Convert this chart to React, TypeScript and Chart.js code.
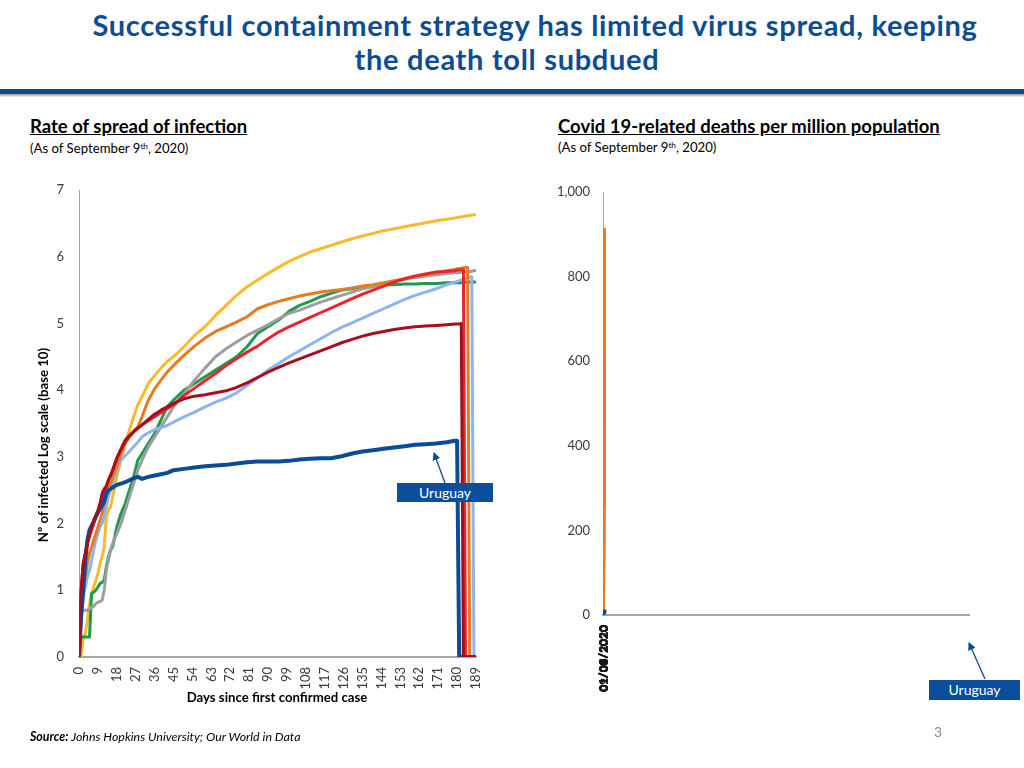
import React, { useEffect, useRef } from "react";
import { Chart, registerables } from "chart.js";

Chart.register(...registerables);

// ---------- Left chart: rate of spread (log10 of infected) ----------
const days = [
  0, 1, 2, 3, 4, 5, 6, 7, 8, 9, 10, 11, 12, 13, 14, 15, 16,
  18, 20, 22, 24, 26, 28, 30,
  33, 36, 39, 42, 45,
  50, 55, 60, 65, 70, 75, 80, 85, 90, 95, 100, 105, 110, 115, 120, 125, 130, 135, 140, 145, 150, 155, 160, 165, 170, 175,
  179, 180, 181, 182, 183, 184, 185, 186, 187, 188, 189,
];

const dayTickLabels = [0, 9, 18, 27, 36, 45, 54, 63, 72, 81, 90, 99, 108, 117, 126, 135, 144, 153, 162, 171, 180, 189];
const infectionTickValues = [0, 1, 2, 3, 4, 5, 6, 7];

const uruguayLog = [
  0, 0.6, 1.0, 1.45, 1.75, 1.9, 1.97, 2.03, 2.1, 2.17, 2.22, 2.27, 2.33, 2.45, 2.5, 2.52, 2.54,
  2.58, 2.6, 2.62, 2.65, 2.68, 2.7, 2.67,
  2.7, 2.72, 2.74, 2.76, 2.8,
  2.82, 2.84, 2.86, 2.87, 2.88, 2.9, 2.92, 2.93, 2.93, 2.93, 2.94, 2.96, 2.97, 2.98, 2.98, 3.01, 3.05, 3.08, 3.1, 3.12, 3.14, 3.16, 3.18, 3.19, 3.2, 3.22,
  3.24, 3.24, 0, 0, 0, 0, 0, 0, 0, 0, 0,
];
const darkRedLog = [
  0, 1.0, 1.4, 1.55, 1.7, 1.85, 1.95, 2.05, 2.12, 2.2, 2.3, 2.45, 2.52, 2.56, 2.65, 2.72, 2.8,
  2.98, 3.12, 3.25, 3.32, 3.38, 3.43, 3.48,
  3.56, 3.64, 3.7, 3.75, 3.8,
  3.87, 3.91, 3.93, 3.96, 3.99, 4.04, 4.11, 4.19, 4.27, 4.34, 4.41, 4.47, 4.53, 4.59, 4.65, 4.71, 4.76, 4.81, 4.85, 4.88, 4.91, 4.93, 4.95, 4.96, 4.97, 4.98,
  4.99, 4.99, 4.99, 5.0, 0, 0, 0, 0, 0, 0, 0,
];
const redLog = [
  0, 1.0, 1.4, 1.55, 1.7, 1.8, 1.9, 2.0, 2.1, 2.15, 2.25, 2.35, 2.45, 2.55, 2.65, 2.72, 2.8,
  2.98, 3.1, 3.22, 3.3, 3.37, 3.43, 3.48,
  3.54, 3.6, 3.66, 3.72, 3.78,
  3.92, 4.03, 4.14, 4.25, 4.37, 4.47, 4.57, 4.66, 4.77, 4.87, 4.95, 5.02, 5.09, 5.16, 5.23, 5.3, 5.37, 5.44, 5.5, 5.56, 5.62, 5.67, 5.71, 5.74, 5.77, 5.78,
  5.79, 5.8, 5.8, 5.8, 5.81, 0, 0, 0, 0, 0, 0,
];
const orangeLog = [
  0, 0.8, 1.0, 1.2, 1.4, 1.55, 1.65, 1.75, 1.85, 1.95, 2.05, 2.15, 2.3, 2.4, 2.5, 2.6, 2.7,
  2.85, 3.05, 3.2, 3.3, 3.38, 3.45, 3.6,
  3.85, 4.02, 4.15, 4.27, 4.37,
  4.52, 4.66, 4.78, 4.88, 4.95, 5.02, 5.1, 5.22, 5.28, 5.33, 5.37, 5.41, 5.44, 5.47, 5.49, 5.51, 5.53, 5.56, 5.58, 5.61, 5.64, 5.67, 5.7, 5.73, 5.76, 5.79,
  5.81, 5.82, 5.82, 5.83, 5.83, 5.84, 5.84, 0, 0, 0, 0,
];
const lightBlueLog = [
  0, 0.6, 0.9, 1.05, 1.2, 1.3, 1.45, 1.6, 1.75, 1.85, 1.95, 2.0, 2.1, 2.25, 2.4, 2.5, 2.6,
  2.8, 2.95, 3.02, 3.08, 3.15, 3.22, 3.3,
  3.36, 3.41, 3.44, 3.47, 3.52,
  3.6, 3.67, 3.75, 3.82, 3.88, 3.96, 4.07, 4.18, 4.3, 4.4, 4.5, 4.59, 4.68, 4.77, 4.86, 4.94, 5.01, 5.08, 5.15, 5.22, 5.29, 5.36, 5.42, 5.47, 5.52, 5.58,
  5.62, 5.63, 5.64, 5.65, 5.66, 5.67, 5.68, 5.69, 5.7, 0, 0,
];
const grayLog = [
  0, 0.7, 0.7, 0.7, 0.7, 0.72, 0.74, 0.76, 0.8, 0.82, 0.83, 0.85, 1.0, 1.3, 1.45, 1.6, 1.7,
  1.85, 2.0, 2.2, 2.4, 2.6, 2.8, 2.95,
  3.15, 3.3, 3.45, 3.6, 3.75,
  3.95, 4.15, 4.33, 4.5, 4.62, 4.72, 4.82, 4.9, 4.98, 5.07, 5.15, 5.2, 5.26, 5.32, 5.37, 5.42, 5.47, 5.52, 5.55, 5.59, 5.62, 5.66, 5.69, 5.71, 5.73, 5.75,
  5.76, 5.76, 5.76, 5.77, 5.77, 5.77, 5.78, 5.78, 5.78, 5.79, 5.8,
];
const greenLog = [
  0, 0.3, 0.3, 0.3, 0.3, 0.3, 0.95, 0.97, 1.0, 1.05, 1.1, 1.12, 1.15, 1.35, 1.5, 1.6, 1.65,
  1.95, 2.15, 2.3, 2.5, 2.7, 2.95, 3.05,
  3.2, 3.35, 3.55, 3.75, 3.85,
  4.0, 4.1, 4.2, 4.3, 4.4, 4.5, 4.65, 4.85, 4.95, 5.05, 5.18, 5.27, 5.33, 5.4, 5.45, 5.5, 5.52, 5.55, 5.57, 5.58, 5.58, 5.59, 5.59, 5.6, 5.6, 5.61,
  5.61, 5.61, 5.61, 5.61, 5.61, 5.62, 5.62, 5.62, 5.62, 5.62, 5.62,
];
const yellowLog = [
  0, 0, 0.3, 0.35, 0.55, 0.8, 0.95, 1.05, 1.15, 1.25, 1.4, 1.5, 1.65, 2.1, 2.2, 2.25, 2.4,
  2.7, 2.95, 3.2, 3.4, 3.6, 3.78, 3.9,
  4.1, 4.22, 4.33, 4.43, 4.5,
  4.65, 4.82, 4.95, 5.12, 5.27, 5.42, 5.55, 5.65, 5.75, 5.84, 5.93, 6.0, 6.07, 6.12, 6.17, 6.22, 6.27, 6.31, 6.35, 6.39, 6.42, 6.45, 6.48, 6.51, 6.54, 6.56,
  6.58, 6.59, 6.59, 6.6, 6.6, 6.61, 6.61, 6.62, 6.62, 6.63, 6.63,
];

// first dataset is painted on top
const infectionNames = ["Comparator 1", "Uruguay", "Comparator 2", "Comparator 3", "Comparator 4", "Comparator 5", "Comparator 6", "Comparator 7"];
const infectionValues = [darkRedLog, uruguayLog, redLog, orangeLog, lightBlueLog, grayLog, greenLog, yellowLog];
const infectionColors = ["#A30F1C", "#0B4C96", "#E8252B", "#E47A22", "#8DB3F2", "#9E9E9E", "#1B9A50", "#FBBA2C"];
const infectionWidths = [3, 4, 3, 3, 3, 3, 3, 3];

// ---------- Right chart: deaths per million ----------
const deathDates = ["01/03/2020", "01/04/2020", "01/05/2020", "01/06/2020", "01/07/2020", "01/08/2020", "01/09/2020", "09/09/2020"];
const deathDayOffsets = [0, 31, 61, 92, 122, 153, 184, 192];
const deathAxisEnd = 44083;
const deathTickValues = [0, 200, 400, 600, 800, 1000];

const uruguayDeaths = [0, 0, 5, 7, 8, 10, 12, 13];
const orangeDeaths = [0, 0, 5, 100, 260, 520, 800, 915];
const yellowDeaths = [0, 0, 3, 50, 150, 330, 540, 610];
const redDeaths = [0, 0, 8, 60, 150, 260, 400, 460];

const deathNames = ["Uruguay", "Comparator 3", "Comparator 7", "Comparator 2"];
const deathValues = [uruguayDeaths, orangeDeaths, yellowDeaths, redDeaths];
const deathColors = ["#0B4C96", "#E47A22", "#FBBA2C", "#E8252B"];
const deathWidths = [4, 3, 3, 3];

const tickFont = { family: "Lato", size: 13 };
const tickColor = "#3A3A3A";
const axisGray = "#A6A6A6";

function InfectionChart() {
  const ref = useRef<HTMLCanvasElement | null>(null);
  useEffect(() => {
    if (!ref.current) return;
    const chart = new Chart(ref.current, {
      type: "line",
      data: {
        datasets: infectionValues.map((vals, k) => ({
          label: infectionNames[k],
          data: days.map((d, i) => ({ x: d, y: vals[i] })),
          borderColor: infectionColors[k],
          backgroundColor: infectionColors[k],
          borderWidth: infectionWidths[k],
          pointRadius: 0,
          tension: 0,
          borderJoinStyle: "round",
          fill: false,
        })),
      },
      options: {
        responsive: false,
        animation: false,
        events: [],
        layout: { padding: { top: 10, right: 24, bottom: 0, left: 0 } },
        plugins: { legend: { display: false }, tooltip: { enabled: false }, title: { display: false } },
        scales: {
          x: {
            type: "linear",
            min: 0,
            max: 189,
            grid: { display: false, drawTicks: false },
            border: { display: true, color: axisGray, width: 2 },
            afterBuildTicks: (s: any) => {
              s.ticks = dayTickLabels.map((v) => ({ value: v }));
            },
            ticks: {
              autoSkip: false,
              maxRotation: 90,
              minRotation: 90,
              padding: 10,
              color: tickColor,
              font: tickFont,
              callback: (v: any) => String(v),
            },
            afterFit: (s: any) => {
              s.height = 43;
              s.paddingLeft = 0;
              s.paddingRight = 0;
            },
          },
          y: {
            type: "linear",
            min: 0,
            max: 7,
            grid: { display: false, drawTicks: false },
            border: { display: true, color: axisGray, width: 1 },
            afterBuildTicks: (s: any) => {
              s.ticks = infectionTickValues.map((v) => ({ value: v }));
            },
            ticks: { padding: 15, color: tickColor, font: tickFont },
            afterFit: (s: any) => {
              s.width = 79;
              s.paddingTop = 0;
              s.paddingBottom = 0;
            },
          },
        },
      },
    } as any);
    return () => chart.destroy();
  }, []);
  return <canvas ref={ref} width={500} height={520} style={{ position: "absolute", left: 0, top: 180 }} />;
}

function DeathsChart() {
  const ref = useRef<HTMLCanvasElement | null>(null);
  useEffect(() => {
    if (!ref.current) return;
    const chart = new Chart(ref.current, {
      type: "line",
      data: {
        datasets: deathValues.map((vals, k) => ({
          label: deathNames[k],
          data: deathDayOffsets.map((d, i) => ({ x: d, y: vals[i] })),
          borderColor: deathColors[k],
          backgroundColor: deathColors[k],
          borderWidth: deathWidths[k],
          pointRadius: 0,
          tension: 0,
          fill: false,
        })),
      },
      options: {
        responsive: false,
        animation: false,
        events: [],
        layout: { padding: { top: 12, right: 55, bottom: 0, left: 0 } },
        plugins: { legend: { display: false }, tooltip: { enabled: false } },
        scales: {
          x: {
            type: "linear",
            min: 0,
            max: deathAxisEnd,
            grid: { display: false, drawTicks: false },
            border: { display: true, color: axisGray, width: 2 },
            afterBuildTicks: (s: any) => {
              s.ticks = deathDayOffsets.map((v) => ({ value: v }));
            },
            ticks: {
              autoSkip: false,
              maxRotation: 90,
              minRotation: 90,
              padding: 10,
              color: "#1A1A1A",
              font: { family: "Lato", size: 12, weight: "bold" },
              callback: (_v: any, i: number) => deathDates[i],
            },
            afterFit: (s: any) => {
              s.height = 85;
              s.paddingLeft = 0;
              s.paddingRight = 0;
            },
          },
          y: {
            type: "linear",
            min: 0,
            max: 1000,
            grid: { display: false, drawTicks: false },
            border: { display: true, color: axisGray, width: 1 },
            afterBuildTicks: (s: any) => {
              s.ticks = deathTickValues.map((v) => ({ value: v }));
            },
            ticks: {
              padding: 13,
              color: tickColor,
              font: tickFont,
              callback: (v: any) => Number(v).toLocaleString("en-US"),
            },
            afterFit: (s: any) => {
              s.width = 103;
              s.paddingTop = 0;
              s.paddingBottom = 0;
            },
          },
        },
      },
    } as any);
    return () => chart.destroy();
  }, []);
  return <canvas ref={ref} width={524} height={520} style={{ position: "absolute", left: 500, top: 180 }} />;
}

const blue = "#0E4C92";

function Sub() {
  return (
    <span>
      (As of September 9
      <sup style={{ fontSize: "0.62em", lineHeight: 0, verticalAlign: "0.55em" }}>th</sup>, 2020)
    </span>
  );
}

function Badge({ left, top, width, height }: { left: number; top: number; width: number; height: number }) {
  return (
    <div
      style={{
        position: "absolute",
        left,
        top,
        width,
        height,
        background: "#0B4F9C",
        color: "#fff",
        fontSize: 14,
        lineHeight: `${height}px`,
        textAlign: "center",
      }}
    >
      Uruguay
    </div>
  );
}

const titleStyle: React.CSSProperties = {
  position: "absolute",
  width: 1000,
  textAlign: "center",
  fontSize: 29,
  letterSpacing: 0.7,
  lineHeight: 1.2,
  fontWeight: 700,
  color: blue,
  whiteSpace: "nowrap",
};

export default function App() {
  return (
    <div
      style={{
        position: "absolute",
        left: 0,
        top: 0,
        width: 1024,
        height: 768,
        background: "#fff",
        overflow: "hidden",
        fontFamily: "Lato, 'Open Sans', sans-serif",
        color: "#000",
      }}
    >
      {/* Title */}
      <div style={{ ...titleStyle, left: 35, top: 8 }}>Successful containment strategy has limited virus spread, keeping</div>
      <div style={{ ...titleStyle, left: 7, top: 42 }}>the death toll subdued</div>
      <div style={{ position: "absolute", left: 0, top: 89, width: 1024, height: 5, background: "#0F4B8F" }} />
      <div style={{ position: "absolute", left: 0, top: 94, width: 1024, height: 3, background: "linear-gradient(#9a9a9a, #f2f2f2)" }} />

      {/* Sub-headings */}
      <div style={{ position: "absolute", left: 30, top: 115, fontSize: 18.5, lineHeight: 1.2, fontWeight: 700, textDecoration: "underline", whiteSpace: "nowrap" }}>
        Rate of spread of infection
      </div>
      <div style={{ position: "absolute", left: 30, top: 141, fontSize: 13.2, lineHeight: 1.2, whiteSpace: "nowrap" }}>
        <Sub />
      </div>
      <div style={{ position: "absolute", left: 558, top: 115, fontSize: 18.5, lineHeight: 1.2, fontWeight: 700, textDecoration: "underline", whiteSpace: "nowrap" }}>
        Covid 19-related deaths per million population
      </div>
      <div style={{ position: "absolute", left: 558, top: 140, fontSize: 13.2, lineHeight: 1.2, whiteSpace: "nowrap" }}>
        <Sub />
      </div>

      <InfectionChart />
      <DeathsChart />

      {/* Axis titles */}
      <div
        style={{
          position: "absolute",
          left: 43 - 150,
          top: 445 - 8,
          width: 300,
          height: 16,
          lineHeight: "16px",
          textAlign: "center",
          fontSize: 13.2,
          fontWeight: 700,
          transform: "rotate(-90deg)",
          whiteSpace: "nowrap",
        }}
      >
        Nº of infected Log scale (base 10)
      </div>
      <div
        style={{
          position: "absolute",
          left: 277 - 150,
          top: 689,
          width: 300,
          height: 16,
          lineHeight: "16px",
          textAlign: "center",
          fontSize: 13.2,
          fontWeight: 700,
          whiteSpace: "nowrap",
        }}
      >
        Days since first confirmed case
      </div>

      {/* Annotations */}
      <Badge left={397} top={483} width={96} height={19} />
      <Badge left={929} top={680} width={91} height={20} />
      <svg width={1024} height={768} style={{ position: "absolute", left: 0, top: 0, pointerEvents: "none" }}>
        <defs>
          <marker id="ah" markerWidth="8" markerHeight="8" refX="7" refY="4" orient="auto" markerUnits="userSpaceOnUse">
            <path d="M0,0 L8,4 L0,8 z" fill="#0B4C96" />
          </marker>
        </defs>
        <line x1={445} y1={483} x2={434} y2={453} stroke="#0B4C96" strokeWidth={1.3} markerEnd="url(#ah)" />
        <line x1={985} y1={679} x2={969} y2={643} stroke="#0B4C96" strokeWidth={1.3} markerEnd="url(#ah)" />
      </svg>

      {/* Footer */}
      <div style={{ position: "absolute", left: 30, top: 730, fontSize: 12.4, lineHeight: 1.2, fontStyle: "italic", whiteSpace: "nowrap" }}>
        <b>Source:</b> Johns Hopkins University; Our World in Data
      </div>
      <div style={{ position: "absolute", left: 934, top: 724, fontSize: 14, lineHeight: 1.2, color: "#8C8C8C" }}>3</div>
    </div>
  );
}
